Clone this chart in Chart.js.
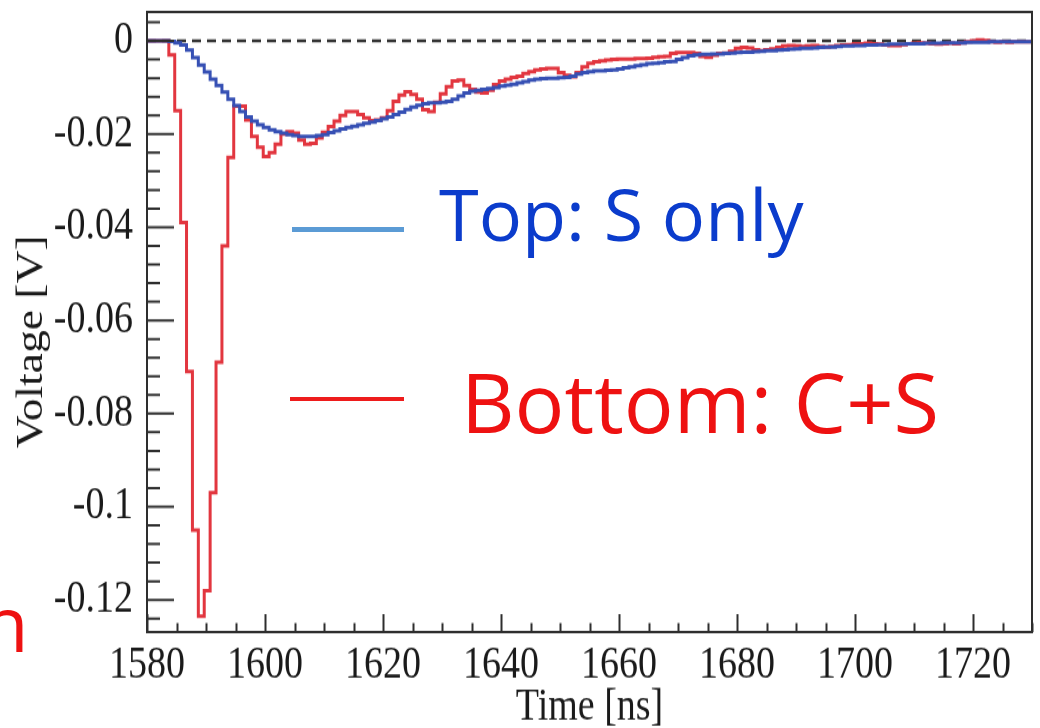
<!DOCTYPE html>
<html>
<head>
<meta charset="utf-8">
<script src="https://cdn.jsdelivr.net/npm/chart.js@4.4.1/dist/chart.umd.min.js"></script>
<style>
  html, body { margin: 0; padding: 0; background: #fff; }
  #wrap { position: relative; width: 1040px; height: 728px; overflow: hidden; }
  /* the plot is drawn at 1040x607 and stretched to full height */
  #pulse { position: absolute; left: 0; top: 0; width: 1040px !important; height: 728px !important; }
  .key { position: absolute; }
  .lbl { position: absolute; white-space: nowrap; font-family: 'Open Sans', 'Noto Sans', sans-serif; line-height: 1; }
</style>
</head>
<body>
<div id="wrap">
  <canvas id="pulse" width="1040" height="607"></canvas>
  <div class="key" style="left:292px; top:227px; width:112px; height:5px; background:#5b9bd5;"></div>
  <div class="key" style="left:290px; top:397px; width:114px; height:4px; background:#ee1c1c;"></div>
  <div class="lbl" id="lblTop" style="left:439px; top:177px; font-size:72px; color:#0b3ccc;"></div>
  <div class="lbl" id="lblBottom" style="left:461px; top:359px; font-size:83px; color:#ee1111;"></div>
  <div class="lbl" style="left:-18px; top:585px; font-size:76px; color:#ee1111;">n</div>
</div>
<script>
// histogram binning (ns)
const binStart = 1579.7;
const binWidth = 1;

// top PMT, scintillation only [V]
const topS = [
  0, 0, 0, 0, 0, -0.0001, -0.0004, -0.0009, -0.0020, -0.0036,
  -0.0052, -0.0067, -0.0082, -0.0096, -0.0110, -0.0125, -0.0139, -0.0152, -0.0163, -0.0172,
  -0.0180, -0.0186, -0.0191, -0.0195, -0.0198, -0.0201, -0.0203, -0.0205, -0.0205, -0.0205,
  -0.0203, -0.0201, -0.0197, -0.0193, -0.0189, -0.0186, -0.0183, -0.0180, -0.0177, -0.0174,
  -0.0171, -0.0167, -0.0163, -0.0158, -0.0153, -0.0147, -0.0142, -0.0138, -0.0135, -0.0133,
  -0.0133, -0.0132, -0.0130, -0.0125, -0.0118, -0.0112, -0.0108, -0.0106, -0.0104, -0.0102,
  -0.0100, -0.0097, -0.0095, -0.0093, -0.0090, -0.0087, -0.0084, -0.0082, -0.0081, -0.0080,
  -0.0080, -0.0079, -0.0078, -0.0076, -0.0071, -0.0068, -0.0066, -0.0064, -0.0064, -0.0063,
  -0.0062, -0.0060, -0.0058, -0.0056, -0.0053, -0.0051, -0.0049, -0.0048, -0.0047, -0.0045,
  -0.0044, -0.0040, -0.0036, -0.0032, -0.0030, -0.0029, -0.0029, -0.0028, -0.0028, -0.0027,
  -0.0026, -0.0025, -0.0024, -0.0024, -0.0023, -0.0022, -0.0021, -0.0021, -0.0020, -0.0019,
  -0.0018, -0.0017, -0.0016, -0.0016, -0.0015, -0.0014, -0.0013, -0.0013, -0.0012, -0.0011,
  -0.0011, -0.0010, -0.0010, -0.0009, -0.0009, -0.0008, -0.0008, -0.0007, -0.0007, -0.0007,
  -0.0006, -0.0006, -0.0006, -0.0005, -0.0005, -0.0005, -0.0004, -0.0004, -0.0004, -0.0004,
  -0.0003, -0.0003, -0.0003, -0.0003, -0.0002, -0.0002, -0.0002, -0.0002, -0.0002, -0.0002,
  -0.0002
];

// bottom PMT, Cherenkov + scintillation [V]
const bottomCS = [
  0, 0, 0, 0, 0, -0.003, -0.015, -0.039, -0.071, -0.105,
  -0.1235, -0.118, -0.097, -0.069, -0.044, -0.025, -0.014, -0.014, -0.017, -0.0205,
  -0.0228, -0.0248, -0.0240, -0.0222, -0.0200, -0.0195, -0.0198, -0.0213, -0.0222, -0.0220,
  -0.0208, -0.0196, -0.0184, -0.0172, -0.0160, -0.0152, -0.0152, -0.0158, -0.0165, -0.0171,
  -0.0170, -0.0165, -0.0150, -0.0130, -0.0116, -0.0109, -0.0115, -0.0125, -0.0148, -0.0152,
  -0.0132, -0.0114, -0.0098, -0.0086, -0.0084, -0.0096, -0.0104, -0.0110, -0.0112, -0.0106,
  -0.0094, -0.0086, -0.0082, -0.0078, -0.0076, -0.0070, -0.0066, -0.0062, -0.0060, -0.0059,
  -0.0059, -0.0068, -0.0074, -0.0077, -0.0068, -0.0056, -0.0048, -0.0045, -0.0043, -0.0041,
  -0.0040, -0.0039, -0.0039, -0.0039, -0.0038, -0.0038, -0.0037, -0.0035, -0.0034, -0.0033,
  -0.0027, -0.0025, -0.0025, -0.0025, -0.0027, -0.0033, -0.0035, -0.0031, -0.0027, -0.0026,
  -0.0022, -0.0016, -0.0014, -0.0015, -0.0019, -0.0021, -0.0019, -0.0017, -0.0014, -0.0011,
  -0.0010, -0.0011, -0.0012, -0.0011, -0.0010, -0.0012, -0.0013, -0.0012, -0.0010, -0.0009,
  -0.0008, -0.0006, -0.0006, -0.0005, -0.0006, -0.0007, -0.0009, -0.0010, -0.0010, -0.0008,
  -0.0006, -0.0005, -0.0004, -0.0005, -0.0006, -0.0007, -0.0006, -0.0005, -0.0006, -0.0004,
  -0.0002, 0.0000, 0.0002, 0.0001, -0.0002, -0.0003, -0.0002, -0.0003, -0.0002, -0.0002,
  -0.0002
];

const xTicks = [1580, 1600, 1620, 1640, 1660, 1680, 1700, 1720];
const xTickLabels = ["1580", "1600", "1620", "1640", "1660", "1680", "1700", "1720"];
const yTicks = [0, -0.02, -0.04, -0.06, -0.08, -0.1, -0.12];
const yTickLabels = ["0", "-0.02", "-0.04", "-0.06", "-0.08", "-0.1", "-0.12"];
const seriesNames = ["Top: S only", "Bottom: C+S"];
const xTitle = "Time [ns]";
const yTitle = "Voltage [V]";

document.getElementById("lblTop").textContent = seriesNames[0];
document.getElementById("lblBottom").textContent = seriesNames[1];

const serif = "'Liberation Serif', 'DejaVu Serif', serif";

// bin contents -> step points (low edges + closing edge)
function toSteps(vals) {
  const pts = vals.map((v, i) => ({ x: binStart + i * binWidth, y: v }));
  pts.push({ x: binStart + vals.length * binWidth, y: vals[vals.length - 1] });
  return pts;
}

// ROOT-like frame: box, inward major/minor ticks, axis titles
const rootFrame = {
  id: "rootFrame",
  afterDraw(chart) {
    const { ctx, chartArea: a, scales: { x, y } } = chart;
    ctx.save();
    ctx.strokeStyle = "#2e2e2e";
    ctx.lineWidth = 2;
    ctx.beginPath();
    for (let t = 1580; t <= 1730; t += 5) {
      const px = Math.round(x.getPixelForValue(t)) + 0.5;
      const len = t % 20 === 0 ? 15 : 7.5;
      ctx.moveTo(px, a.bottom);
      ctx.lineTo(px, a.bottom - len);
    }
    for (let k = 1; k >= -31; k--) {
      const py = y.getPixelForValue(k * 0.004);
      if (py < a.top || py > a.bottom) continue;
      const len = k % 5 === 0 ? 27 : 13;
      ctx.moveTo(a.left, py);
      ctx.lineTo(a.left + len, py);
    }
    ctx.stroke();
    ctx.strokeRect(a.left, a.top, a.right - a.left, a.bottom - a.top);

    ctx.fillStyle = "#1a1a1a";
    ctx.font = "38px " + serif;
    ctx.textAlign = "center";
    ctx.textBaseline = "middle";
    ctx.fillText(xTitle, (a.left + a.right) / 2, 590);
    ctx.translate(32, 285);
    ctx.rotate(-Math.PI / 2);
    ctx.fillText(yTitle, 0, 0);
    ctx.restore();
  }
};

new Chart(document.getElementById("pulse"), {
  type: "line",
  data: {
    datasets: [
      {
        label: "zero",
        data: [{ x: 1580, y: 0 }, { x: 1730, y: 0 }],
        borderColor: "#333333",
        borderWidth: 2.5,
        borderDash: [9, 6],
        pointRadius: 0,
        order: 2,
      },
      {
        label: seriesNames[1],
        data: toSteps(bottomCS),
        stepped: "after",
        borderColor: "#e2363f",
        borderWidth: 3,
        pointRadius: 0,
        order: 1,
      },
      {
        label: seriesNames[0],
        data: toSteps(topS),
        stepped: "after",
        borderColor: "#3650b4",
        borderWidth: 3,
        pointRadius: 0,
        order: 0,
      },
    ],
  },
  options: {
    responsive: false,
    animation: false,
    parsing: false,
    devicePixelRatio: 1,
    layout: { padding: { top: 10, right: 8, left: 0, bottom: 0 } },
    plugins: {
      legend: { display: false },
      tooltip: { enabled: false },
    },
    scales: {
      x: {
        type: "linear",
        min: 1580,
        max: 1730,
        afterFit: (s) => { s.height = 80; s.paddingLeft = 0; s.paddingRight = 0; },
        afterBuildTicks: (s) => { s.ticks = xTicks.map((v) => ({ value: v })); },
        grid: { display: false, drawTicks: false },
        border: { display: false },
        ticks: {
          padding: 5,
          color: "#1a1a1a",
          maxRotation: 0,
          font: { family: serif, size: 38 },
          callback: (v, i) => xTickLabels[i],
        },
      },
      y: {
        type: "linear",
        min: -0.1269,
        max: 0.0062,
        afterFit: (s) => { s.width = 147; s.paddingTop = 0; s.paddingBottom = 0; },
        afterBuildTicks: (s) => { s.ticks = yTicks.map((v) => ({ value: v })); },
        grid: { display: false, drawTicks: false },
        border: { display: false },
        ticks: {
          padding: 14,
          color: "#1a1a1a",
          font: { family: serif, size: 38 },
          callback: (v, i) => yTickLabels[i],
        },
      },
    },
  },
  plugins: [rootFrame],
});
</script>
</body>
</html>
